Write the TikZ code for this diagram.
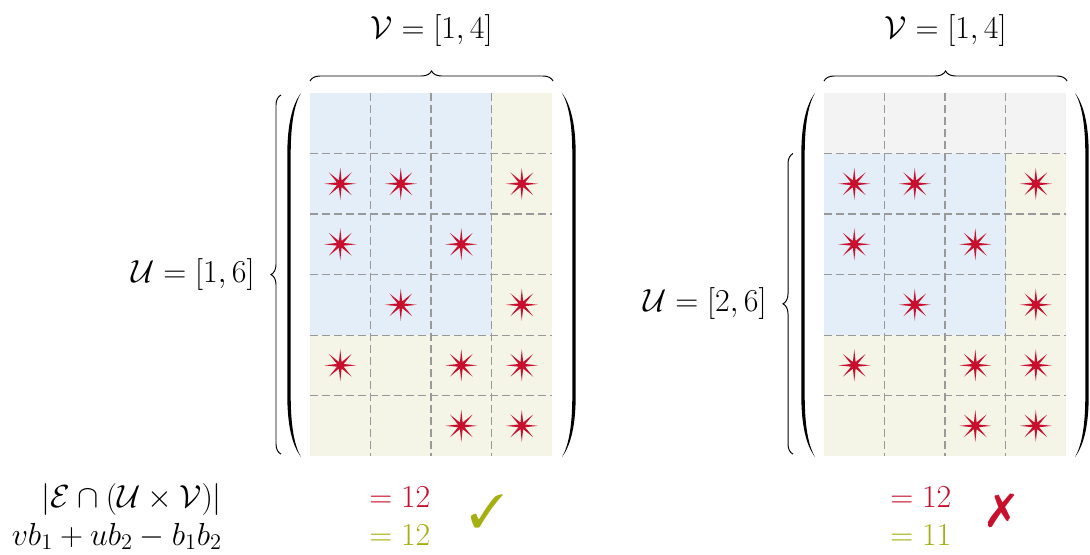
\RequirePackage{fix-cm}
\documentclass[tikz,border=0pt]{standalone}
\usepackage{amsmath, amssymb}
\usepackage{pifont}
\usepackage{tikz}
\usetikzlibrary{positioning, calc, decorations.pathreplacing, shapes.geometric}

\definecolor{EdgeRed}{HTML}{C8102E}
\definecolor{CountOlive}{HTML}{A5AF12}
\definecolor{CellBlue}{HTML}{E4EEF8}
\definecolor{CellBeige}{HTML}{F4F5E6}
\definecolor{CellGray}{HTML}{F3F3F3}

% cells holding an edge (row/column)
\newcommand{\edgecells}{2/1, 2/2, 2/4, 3/1, 3/3, 4/2, 4/4, 5/1, 5/3, 5/4, 6/3, 6/4}

\begin{document}
\begin{tikzpicture}[
  x=0.025cm, y=-0.025cm,
  maths/.style={font=\fontsize{22.7}{27}\selectfont, inner sep=0pt},
  gridline/.style={black!40, line width=0.8pt, dash pattern=on 0.2cm off 0.1cm},
  edgemark/.style={star, star points=8, star point ratio=4.5, fill=EdgeRed, minimum size=0.8cm, inner sep=0pt},
  setbrace/.style={decorate, decoration={brace, amplitude=0.25cm}, line width=0.7pt},
  verdict/.style={font=\fontsize{33}{36}\selectfont, inner sep=0pt},
  bigparen/.pic={
    \fill (0,-182) .. controls (-9,-170) and (-13.7,-150) .. (-13.7,-120) -- (-13.7,120)
      .. controls (-13.7,150) and (-9,170) .. (0,182)
      .. controls (-7,170) and (-10.3,150) .. (-10.3,120) -- (-10.3,-120)
      .. controls (-10.3,-150) and (-7,-170) .. (0,-182) -- cycle;
  },
]
  \useasboundingbox (0,0) rectangle (1090,554);

  % Left grid
  \begin{scope}[shift={(310,93)}, x=1.5125cm, y=-1.5125cm]
    \fill[CellBeige] (0,0) rectangle (4,6);
    \fill[CellBlue] (0,0) rectangle (3,4);
    \foreach \c in {1,2,3} \draw[gridline] (\c,0) -- (\c,6);
    \foreach \r in {1,...,5} \draw[gridline] (0,\r) -- (4,\r);
    \foreach \r/\c in \edgecells {
      \node[edgemark] (L-\r-\c) at (\c-0.5, \r-0.5) {};
    }
    \coordinate (Lnw) at (0,0);
    \coordinate (Lne) at (4,0);
    \coordinate (Lsw) at (0,6);
  \end{scope}

  \pic at (301,275) {bigparen};
  \pic[xscale=-1] at (562,275) {bigparen};

  \draw[setbrace] ($(Lnw)+(0,-12)$) -- ($(Lne)+(1,-12)$)
    node[midway, above=0.85cm, maths] (vL) {$\mathcal{V} = [1,4]$};
  \draw[setbrace] ($(Lsw)+(-29,-2)$) -- ($(Lnw)+(-29,2)$)
    node[midway, left=0.65cm, maths] (uL) {$\mathcal{U} = [1,6]$};

  % Right grid
  \begin{scope}[shift={(824,93)}, x=1.5125cm, y=-1.5125cm]
    \fill[CellGray] (0,0) rectangle (4,1);
    \fill[CellBeige] (0,1) rectangle (4,6);
    \fill[CellBlue] (0,1) rectangle (3,4);
    \foreach \c in {1,2,3} \draw[gridline] (\c,0) -- (\c,6);
    \foreach \r in {1,...,5} \draw[gridline] (0,\r) -- (4,\r);
    \foreach \r/\c in \edgecells {
      \node[edgemark] (R-\r-\c) at (\c-0.5, \r-0.5) {};
    }
    \coordinate (Rnw) at (0,0);
    \coordinate (Rne) at (4,0);
    \coordinate (Rsw) at (0,6);
    \coordinate (Rrow) at (0,1);
  \end{scope}

  \pic at (815,275) {bigparen};
  \pic[xscale=-1] at (1075,275) {bigparen};

  \draw[setbrace] ($(Rnw)+(0,-12)$) -- ($(Rne)+(1,-12)$)
    node[midway, above=0.85cm, maths] (vR) {$\mathcal{V} = [1,4]$};
  \draw[setbrace] ($(Rsw)+(-31,-2)$) -- ($(Rrow)+(-31,0)$)
    node[midway, left=0.65cm, maths] (uR) {$\mathcal{U} = [2,6]$};

  % Counts
  \node[maths, anchor=base east] (cardL) at (222,507) {$|\mathcal{E} \cap (\mathcal{U} \times \mathcal{V})|$};
  \node[maths, anchor=base east] (formL) at (222,545) {$vb_1 + ub_2 - b_1b_2$};

  \node[maths, anchor=base west, text=EdgeRed] (cardLv) at (369,507) {$=12$};
  \node[maths, anchor=base west, text=CountOlive] (formLv) at (369,545) {$=12$};
  \node[verdict, text=CountOlive] (okL) at (487,511) {\ding{51}};

  \node[maths, anchor=base west, text=EdgeRed] (cardRv) at (890,507) {$=12$};
  \node[maths, anchor=base west, text=CountOlive] (formRv) at (890,545) {$=11$};
  \node[verdict, text=EdgeRed] (badR) at (1001,511) {\ding{55}};
\end{tikzpicture}
\end{document}
